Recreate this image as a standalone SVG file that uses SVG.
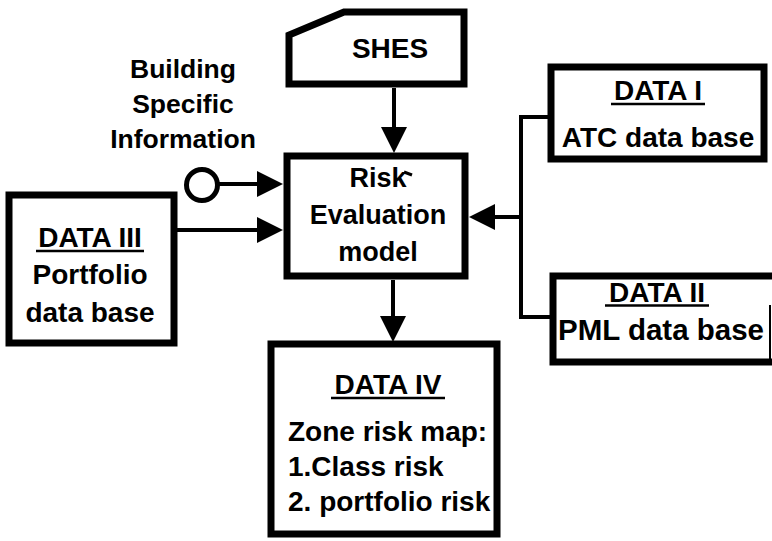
<svg xmlns="http://www.w3.org/2000/svg" width="772" height="541" viewBox="0 0 772 541">
<defs>
<style>
.box{fill:#fff;stroke:#000;stroke-width:7;stroke-linejoin:miter}
.thin{fill:none;stroke:#000;stroke-width:2}
.conn{fill:none;stroke:#000;stroke-width:4}
.t{font-family:"Liberation Sans",Arial,Helvetica,sans-serif;font-weight:bold;font-size:28px;fill:#000}
.c{text-anchor:middle}
.ul{stroke:#000;stroke-width:2.5}
</style>
<marker id="ah" markerUnits="userSpaceOnUse" markerWidth="26" markerHeight="26" refX="16" refY="13" orient="auto">
<path d="M0,0 L26,13 L0,26 Z" fill="#000"/>
</marker>
</defs>
<rect width="772" height="541" fill="#fff"/>

<g id="connectors">
<line class="conn" x1="394" y1="88" x2="394" y2="143" marker-end="url(#ah)"/>
<line class="conn" x1="219" y1="184" x2="273" y2="184" marker-end="url(#ah)"/>
<line class="conn" x1="177" y1="230" x2="273" y2="230" marker-end="url(#ah)"/>
<line class="conn" x1="393" y1="280" x2="393" y2="332" marker-end="url(#ah)"/>
<polyline class="conn" points="550,117 521,117 521,317 553,317"/>
<line class="conn" x1="521" y1="217" x2="479" y2="217" marker-end="url(#ah)"/>
</g>

<g id="shes">
<path class="box" d="M289,84 L289,35 L344,12 L464,12 L464,84 Z"/>
<text class="t c" x="390" y="58">SHES</text>
</g>

<g id="building-info">
<text class="t c" x="183" y="78" style="font-size:26.5px">Building</text>
<text class="t c" x="183" y="113" style="font-size:26.5px">Specific</text>
<text class="t c" x="183" y="148" style="font-size:26.5px">Information</text>
<circle cx="202" cy="185" r="15.5" fill="#fff" stroke="#000" stroke-width="5"/>
</g>

<g id="risk-model">
<rect class="box" x="287" y="156" width="178" height="120"/>
<text class="t c" x="378" y="187" style="font-size:27px">Risk</text>
<path d="M404,172 L412,175" stroke="#000" stroke-width="3" fill="none"/>
<text class="t c" x="378" y="224" style="font-size:27px">Evaluation</text>
<text class="t c" x="378" y="261" style="font-size:27px">model</text>
</g>

<g id="data1">
<rect class="box" x="551" y="67" width="213" height="92"/>
<text class="t c" x="658" y="100">DATA I</text>
<line class="ul" x1="611" y1="104" x2="705" y2="104"/>
<text class="t c" x="658" y="147">ATC data base</text>
</g>

<g id="data2">
<path class="box" d="M772,276 L553,276 L553,362 L772,362" style="fill:#fff"/>
<line class="thin" x1="770" y1="305" x2="770" y2="362"/>
<text class="t c" x="657" y="302">DATA II</text>
<line class="ul" x1="605" y1="305.5" x2="709" y2="305.5"/>
<text class="t c" x="661" y="340" style="font-size:29.5px">PML data base</text>
</g>

<g id="data3">
<rect class="box" x="9" y="195" width="165" height="148"/>
<text class="t c" x="90" y="247">DATA III</text>
<line class="ul" x1="36" y1="251" x2="144" y2="251"/>
<text class="t c" x="90" y="284">Portfolio</text>
<text class="t c" x="90" y="322">data base</text>
</g>

<g id="data4">
<rect class="box" x="271" y="344" width="226" height="190"/>
<text class="t c" x="388" y="394">DATA IV</text>
<line class="ul" x1="331" y1="398" x2="445" y2="398"/>
<text class="t" x="288" y="441">Zone risk map:</text>
<text class="t" x="288" y="476">1.Class risk</text>
<text class="t" x="288" y="511">2. portfolio risk</text>
</g>
</svg>
